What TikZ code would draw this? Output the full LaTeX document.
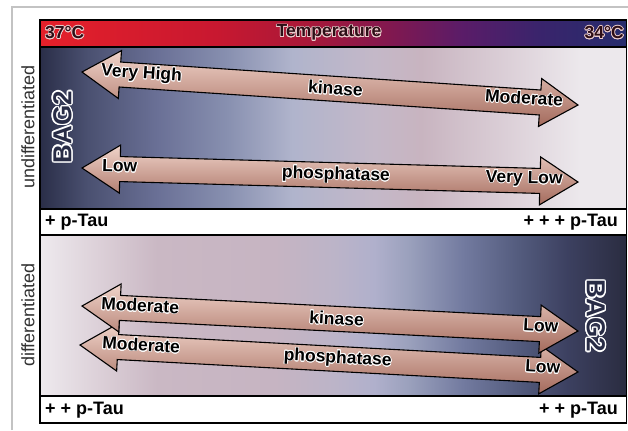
\documentclass[tikz,border=0pt]{standalone}
\usepackage{fontspec}
\setmainfont{Liberation Sans}
\usepackage{contour}
\contourlength{0.7pt}
\definecolor{frameGray}{RGB}{195, 195, 195}
\definecolor{bagNavy}{RGB}{40, 44, 70}
\definecolor{arrowLight}{RGB}{240, 212, 202}
\definecolor{arrowMid}{RGB}{202, 148, 132}
\definecolor{arrowDark}{RGB}{164, 106, 92}
\definecolor{tempText}{RGB}{45, 14, 22}
\definecolor{tempGlow}{RGB}{236, 206, 206}
\definecolor{sideText}{RGB}{50, 50, 50}
% temperature bar
\definecolor{tb0}{RGB}{229, 32, 42}
\definecolor{tb1}{RGB}{200, 24, 48}
\definecolor{tb2}{RGB}{170, 24, 56}
\definecolor{tb3}{RGB}{128, 24, 80}
\definecolor{tb4}{RGB}{90, 28, 104}
\definecolor{tb5}{RGB}{58, 36, 108}
\definecolor{tb6}{RGB}{38, 44, 108}
% upper panel
\definecolor{up0}{RGB}{42, 46, 72}
\definecolor{up1}{RGB}{74, 80, 112}
\definecolor{up2}{RGB}{106, 112, 150}
\definecolor{up3}{RGB}{136, 144, 176}
\definecolor{up4}{RGB}{176, 180, 204}
\definecolor{up5}{RGB}{196, 184, 200}
\definecolor{up6}{RGB}{200, 180, 192}
\definecolor{up7}{RGB}{220, 208, 216}
\definecolor{up8}{RGB}{236, 232, 236}
% lower panel
\definecolor{lo0}{RGB}{238, 234, 238}
\definecolor{lo1}{RGB}{220, 208, 216}
\definecolor{lo2}{RGB}{202, 184, 196}
\definecolor{lo3}{RGB}{198, 180, 194}
\definecolor{lo4}{RGB}{188, 180, 200}
\definecolor{lo5}{RGB}{176, 176, 204}
\definecolor{lo6}{RGB}{154, 160, 188}
\definecolor{lo7}{RGB}{115, 123, 160}
\definecolor{lo8}{RGB}{82, 90, 124}
\definecolor{lo9}{RGB}{60, 64, 96}
\definecolor{lo10}{RGB}{42, 44, 64}
\pgfdeclarehorizontalshading{tempShade}{100bp}{color(0bp)=(tb0); color(25bp)=(tb0); color(40bp)=(tb1); color(47.5bp)=(tb2); color(55bp)=(tb3); color(61bp)=(tb4); color(67.5bp)=(tb5); color(75bp)=(tb6); color(100bp)=(tb6)}
\pgfdeclarehorizontalshading{upperShade}{100bp}{color(0bp)=(up0); color(25bp)=(up0); color(29bp)=(up1); color(35bp)=(up2); color(41bp)=(up3); color(46.5bp)=(up4); color(53.5bp)=(up5); color(57.5bp)=(up6); color(65bp)=(up7); color(71bp)=(up8); color(75bp)=(up8); color(100bp)=(up8)}
\pgfdeclarehorizontalshading{lowerShade}{100bp}{color(0bp)=(lo0); color(25bp)=(lo0); color(30bp)=(lo1); color(35bp)=(lo2); color(45bp)=(lo3); color(50bp)=(lo4); color(53.5bp)=(lo5); color(56.5bp)=(lo6); color(61bp)=(lo7); color(66bp)=(lo8); color(70bp)=(lo9); color(75bp)=(lo10); color(100bp)=(lo10)}
\tikzset{
  arrowBody/.style={draw=black, line width=1.1bp, line join=miter, top color=arrowLight, middle color=arrowMid, bottom color=arrowDark},
  armLabel/.style={inner sep=0pt, transform shape, font=\fontsize{17.5bp}{19bp}\selectfont\bfseries},
  tauLabel/.style={inner sep=0pt, font=\fontsize{18bp}{20bp}\selectfont\bfseries},
  tempLabel/.style={inner sep=0pt, font=\fontsize{17.5bp}{19bp}\selectfont\bfseries},
  stateLabel/.style={inner sep=0pt, text=sideText, font=\fontsize{18bp}{20bp}\selectfont},
  bagLabel/.style={inner sep=0pt}
}
% double headed arrow of length #1, lying along the x axis
\newcommand{\twinArrow}[1]{\draw[arrowBody] (0,0) -- (38,24) -- (38,12.5) -- (#1-38,12.5) -- (#1-38,24) -- (#1,0) -- (#1-38,-24) -- (#1-38,-12.5) -- (38,-12.5) -- (38,-24) -- cycle;}
\newcommand{\haloText}[1]{\contour{white}{#1}}
\newcommand{\tempText}[1]{\contour{tempGlow}{\textcolor{tempText}{#1}}}
\newcommand{\bagText}{{\fontsize{26bp}{28bp}\selectfont\bfseries\contourlength{1.4pt}\contour{white}{\textcolor{bagNavy}{BAG2}}}}

\begin{document}
\begin{tikzpicture}[x=1bp, y=1bp]
  \useasboundingbox (0,0) rectangle (628,430);
  \draw[frameGray, line width=1.5bp] (12,0) -- (12,423) -- (628,423);

  % panels
  \shade[shading=tempShade] (40,383) rectangle (626.5,410);
  \shade[shading=upperShade] (40,221) rectangle (626.5,383);
  \fill[white] (40,195) rectangle (626.5,221);
  \shade[shading=lowerShade] (40,34) rectangle (626.5,195);

  % upper panel arrows
  \begin{scope}[shift={(82,262)}, rotate=-1.62]
    \twinArrow{496.2}
    \node[armLabel, anchor=mid west] (phosUpL) at (20,0) {\haloText{Low}};
    \node[armLabel] (phosUpM) at (254,0) {\haloText{phosphatase}};
    \node[armLabel, anchor=mid east] (phosUpR) at (481,0) {\haloText{Very Low}};
  \end{scope}
  \begin{scope}[shift={(82,358)}, rotate=-3.81]
    \twinArrow{497.1}
    \node[armLabel, anchor=mid west] (kinUpL) at (19,0) {\haloText{Very High}};
    \node[armLabel] (kinUpM) at (254,0) {\haloText{kinase}};
    \node[armLabel, anchor=mid east] (kinUpR) at (482,0) {\haloText{Moderate}};
  \end{scope}

  % lower panel arrows
  \begin{scope}[shift={(80,85)}, rotate=-3.10]
    \twinArrow{498.7}
    \node[armLabel, anchor=mid west] (phosLoL) at (22,0) {\haloText{Moderate}};
    \node[armLabel] (phosLoM) at (258,0) {\haloText{phosphatase}};
    \node[armLabel, anchor=mid east] (phosLoR) at (481,0) {\haloText{Low}};
  \end{scope}
  \begin{scope}[shift={(82,124)}, rotate=-2.89]
    \twinArrow{496.6}
    \node[armLabel, anchor=mid west] (kinLoL) at (19,0) {\haloText{Moderate}};
    \node[armLabel] (kinLoM) at (255,0) {\haloText{kinase}};
    \node[armLabel, anchor=mid east] (kinLoR) at (477,0) {\haloText{Low}};
  \end{scope}

  % frame lines
  \draw[black, line width=1.2bp] (40,7) rectangle (626.5,410);
  \draw[black, line width=1.2bp] (40,383) -- (626.5,383);
  \draw[black, line width=1.2bp] (40,221) -- (626.5,221);
  \draw[black, line width=1.2bp] (40,195) -- (626.5,195);
  \draw[black, line width=1.2bp] (40,34) -- (626.5,34);

  % temperature bar
  \node[tempLabel, anchor=west] (hot) at (45,397) {\tempText{37°C}};
  \node[tempLabel] (temp) at (329,397) {\tempText{Temperature}};
  \node[tempLabel, anchor=east] (cool) at (624,397) {\tempText{34°C}};

  % BAG2
  \node[bagLabel, rotate=90] (bagUp) at (63,303) {\bagText};
  \node[bagLabel, rotate=-90] (bagLo) at (595,114) {\bagText};

  % p-Tau strips
  \node[tauLabel, anchor=west] (tauUpL) at (45,208) {+ p-Tau};
  \node[tauLabel, anchor=east] (tauUpR) at (618,208) {+ + + p-Tau};
  \node[tauLabel, anchor=west] (tauLoL) at (45,20) {+ + p-Tau};
  \node[tauLabel, anchor=east] (tauLoR) at (618,20) {+ + p-Tau};

  % cell states
  \node[stateLabel, rotate=90] (undiff) at (28,303) {undifferentiated};
  \node[stateLabel, rotate=90] (diff) at (28,115) {differentiated};
\end{tikzpicture}
\end{document}
